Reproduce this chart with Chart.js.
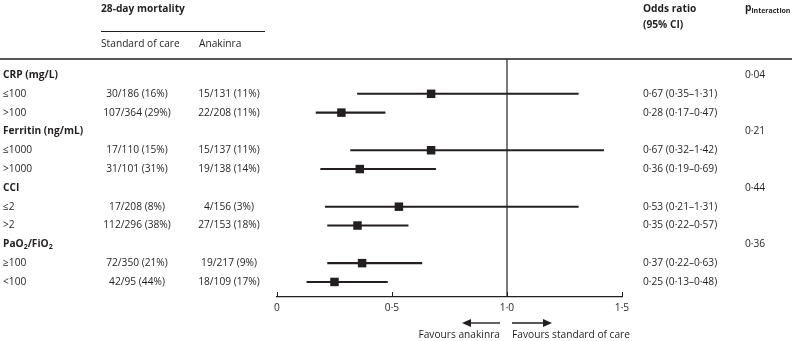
<!DOCTYPE html>
<html>
<head>
<meta charset="utf-8">
<script src="https://cdn.jsdelivr.net/npm/chart.js@4"></script>
<style>
  html, body { margin: 0; padding: 0; background: #fff; }
  #wrap { width: 792px; height: 341px; position: relative; }
</style>
</head>
<body>
<div id="wrap"><canvas id="forest"></canvas></div>
<script>
// Subgroup analysis of 28-day mortality, anakinra vs standard of care
const groupLabels = ['CRP (mg/L)', 'Ferritin (ng/mL)', 'CCI', 'PaO2/FiO2'];
const pInteraction = ['0·04', '0·21', '0·44', '0·36'];
const subLabels = ['≤100', '>100', '≤1000', '>1000', '≤2', '>2', '≥100', '<100'];
const standardOfCare = ['30/186 (16%)', '107/364 (29%)', '17/110 (15%)', '31/101 (31%)',
  '17/208 (8%)', '112/296 (38%)', '72/350 (21%)', '42/95 (44%)'];
const anakinra = ['15/131 (11%)', '22/208 (11%)', '15/137 (11%)', '19/138 (14%)',
  '4/156 (3%)', '27/153 (18%)', '19/217 (9%)', '18/109 (17%)'];
const oddsRatio = [0.67, 0.28, 0.67, 0.36, 0.53, 0.35, 0.37, 0.25];
const ciLow = [0.35, 0.17, 0.32, 0.19, 0.21, 0.22, 0.22, 0.13];
const ciHigh = [1.31, 0.47, 1.42, 0.69, 1.31, 0.57, 0.63, 0.48];
const xTicks = [0, 0.5, 1, 1.5];

const INK = '#231f20';
const FONT = '"Open Sans", sans-serif';
const FS = 10.2;

// each group takes 3 rows: header, then its two subgroups
const subRow = (k) => Math.floor(k / 2) * 3 + 1 + (k % 2);
const dot = (v) => v.toFixed(2).replace('.', '·');

function drawSub(ctx, parts, x, y, size, weight) {
  // parts: [text, isSubscript]
  let cx = x;
  parts.forEach(([t, sub]) => {
    ctx.font = `${weight} ${sub ? Math.round(size * 0.65) : size}px ${FONT}`;
    ctx.fillText(t, cx, sub ? y + size * 0.3 : y);
    cx += ctx.measureText(t).width;
  });
}

const tablePlugin = {
  id: 'table',
  afterDraw(chart) {
    const { ctx, chartArea, scales } = chart;
    const xs = scales.x, ys = scales.y;
    ctx.save();
    ctx.fillStyle = INK;
    ctx.strokeStyle = INK;
    ctx.textBaseline = 'middle';

    // header
    ctx.font = `bold ${FS}px ${FONT}`;
    ctx.textAlign = 'left';
    ctx.fillText('28-day mortality', 101, 9);
    ctx.fillText('Odds ratio', 643, 9);
    ctx.fillText('(95% CI)', 643, 25);
    drawSub(ctx, [['p', false], ['interaction', true]], 745, 8, FS, 'bold');
    ctx.font = `${FS}px ${FONT}`;
    ctx.fillText('Standard of care', 101, 44);
    ctx.fillText('Anakinra', 199, 44);

    ctx.lineWidth = 1;
    ctx.beginPath();
    ctx.moveTo(101, 31.5); ctx.lineTo(265, 31.5);
    ctx.stroke();
    ctx.lineWidth = 1.5;
    ctx.beginPath();
    ctx.moveTo(0, chartArea.top); ctx.lineTo(chart.width, chartArea.top);
    ctx.stroke();

    // line of no effect
    ctx.lineWidth = 1.2;
    const x1 = xs.getPixelForValue(1);
    ctx.beginPath();
    ctx.moveTo(x1, chartArea.top); ctx.lineTo(x1, chartArea.bottom);
    ctx.stroke();

    // upward tick marks on the axis
    ctx.lineWidth = 1;
    xTicks.forEach((v) => {
      const px = Math.round(xs.getPixelForValue(v)) + 0.5;
      ctx.beginPath();
      ctx.moveTo(px, chartArea.bottom); ctx.lineTo(px, chartArea.bottom - 5);
      ctx.stroke();
    });

    // group rows
    groupLabels.forEach((g, i) => {
      const y = ys.getPixelForValue(i * 3);
      ctx.textAlign = 'left';
      if (g === 'PaO2/FiO2') {
        drawSub(ctx, [['PaO', false], ['2', true], ['/FiO', false], ['2', true]], 3, y, FS, 'bold');
      } else {
        ctx.font = `bold ${FS}px ${FONT}`;
        ctx.fillText(g, 3, y);
      }
      ctx.font = `${FS}px ${FONT}`;
      ctx.fillText(pInteraction[i], 745, y);
    });

    // subgroup rows
    ctx.font = `${FS}px ${FONT}`;
    subLabels.forEach((s, k) => {
      const y = ys.getPixelForValue(subRow(k));
      ctx.textAlign = 'left';
      ctx.fillText(s, 3, y);
      ctx.textAlign = 'center';
      ctx.fillText(standardOfCare[k], 137, y);
      ctx.fillText(anakinra[k], 229, y);
      ctx.textAlign = 'left';
      ctx.fillText(`${dot(oddsRatio[k])} (${dot(ciLow[k])}–${dot(ciHigh[k])})`, 643, y);
    });

    // favours arrows
    const ay = 323;
    ctx.lineWidth = 1.4;
    [[x1 - 7, x1 - 45], [x1 + 5, x1 + 45]].forEach(([a, b]) => {
      const dir = Math.sign(b - a);
      ctx.beginPath();
      ctx.moveTo(a, ay); ctx.lineTo(b - dir * 6, ay);
      ctx.stroke();
      ctx.beginPath();
      ctx.moveTo(b, ay);
      ctx.lineTo(b - dir * 9, ay - 4);
      ctx.lineTo(b - dir * 9, ay + 4);
      ctx.closePath();
      ctx.fill();
    });
    ctx.font = `${FS}px ${FONT}`;
    ctx.textAlign = 'right';
    ctx.fillText('Favours anakinra', x1 - 7, 335);
    ctx.textAlign = 'left';
    ctx.fillText('Favours standard of care', x1 + 5, 335);
    ctx.restore();
  },
};

new Chart(document.getElementById('forest'), {
  type: 'bar',
  data: {
    datasets: [
      {
        type: 'bar',
        indexAxis: 'y',
        data: subLabels.map((_, k) => ({ x: [ciLow[k], ciHigh[k]], y: subRow(k) })),
        backgroundColor: INK,
        barThickness: 1.4,
        grouped: false,
      },
      {
        type: 'scatter',
        data: oddsRatio.map((v, k) => ({ x: v, y: subRow(k) })),
        pointStyle: 'rect',
        pointRadius: 6,
        pointBackgroundColor: INK,
        pointBorderWidth: 0,
      },
    ],
  },
  options: {
    responsive: true,
    maintainAspectRatio: false,
    animation: false,
    devicePixelRatio: 1,
    layout: { padding: { left: 277, right: 170, top: 59, bottom: 14 } },
    plugins: { legend: { display: false }, tooltip: { enabled: false } },
    scales: {
      x: {
        type: 'linear',
        offset: false,
        min: 0,
        max: 1.5,
        afterBuildTicks(scale) { scale.ticks = xTicks.map((v) => ({ value: v })); },
        afterFit(scale) { scale.height = 30; },
        ticks: {
          color: INK,
          padding: 5,
          font: { family: FONT, size: FS },
          callback(v) { return v === 0 ? '0' : v.toFixed(1).replace('.', '·'); },
        },
        grid: { drawOnChartArea: false, drawTicks: false, offset: false },
        border: { display: true, color: INK, width: 1.2 },
      },
      y: {
        type: 'linear',
        display: false,
        offset: false,
        reverse: true,
        min: -0.85,
        max: 11.8,
        grid: { offset: false },
      },
    },
  },
  plugins: [tablePlugin],
});
</script>
</body>
</html>
